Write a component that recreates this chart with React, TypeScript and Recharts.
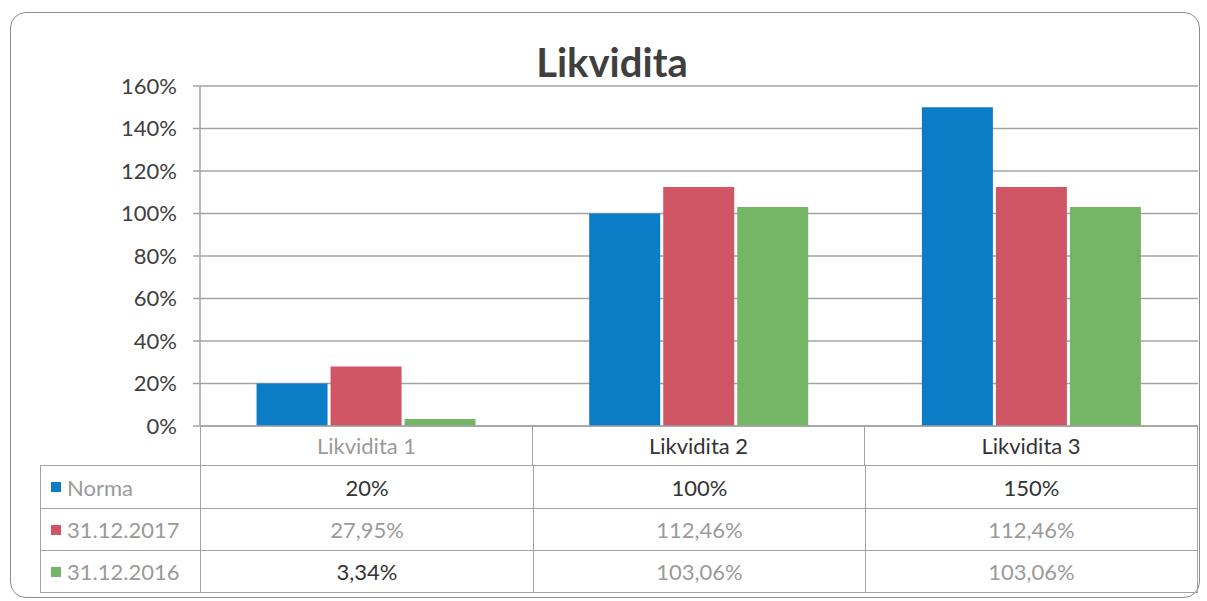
import React from 'react'
import { BarChart, Bar, XAxis, YAxis, CartesianGrid } from 'recharts'

const categories = ['Likvidita 1', 'Likvidita 2', 'Likvidita 3']
const norma = [20, 100, 150]
const rok2017 = [27.95, 112.46, 112.46]
const rok2016 = [3.34, 103.06, 103.06]
const yTicks = [0, 20, 40, 60, 80, 100, 120, 140, 160]

const series = [
  { key: 'norma', name: 'Norma', color: '#0b7dc6', values: norma, labels: ['20%', '100%', '150%'] },
  { key: 'r2017', name: '31.12.2017', color: '#d05565', values: rok2017, labels: ['27,95%', '112,46%', '112,46%'] },
  { key: 'r2016', name: '31.12.2016', color: '#74b566', values: rok2016, labels: ['3,34%', '103,06%', '103,06%'] },
]

// barvy textu v tabulce podle skenu
const headerColors = ['#9a9a9a', '#333', '#333']
const cellColors = [
  ['#333', '#333', '#333'],
  ['#9a9a9a', '#9a9a9a', '#9a9a9a'],
  ['#333', '#9a9a9a', '#9a9a9a'],
]

const data = categories.map((c, i) => ({
  name: c,
  norma: norma[i],
  r2017: rok2017[i],
  r2016: rok2016[i],
}))

const FONT = 'Lato, "Open Sans", sans-serif'
const GRID = '#a3a3a3'

const colLeft = [40, 200, 533, 865]
const colWidth = [160, 333, 332, 333]
const rowTop = [426, 465, 508, 550]
const rowHeight = [39, 43, 42, 43]

export default function App() {
  return (
    <div style={{ position: 'absolute', left: 0, top: 0, width: 1207, height: 601, background: '#fff', fontFamily: FONT }}>
      {/* rámeček grafu */}
      <div style={{
        position: 'absolute', left: 10, top: 12, width: 1190, height: 586,
        border: '1.5px solid #8d8d8d', borderRadius: 16, boxSizing: 'border-box',
      }} />
      <div style={{
        position: 'absolute', left: 0, top: 38, width: 1224, textAlign: 'center',
        fontSize: 40, fontWeight: 700, color: '#3f3f3f',
      }}>Likvidita</div>

      <div style={{ position: 'absolute', left: 0, top: 0 }}>
        <BarChart width={1207} height={601} data={data}
          margin={{ top: 86, right: 9, left: 0, bottom: 174 }}
          barCategoryGap="17%" barGap={3}>
          <CartesianGrid vertical={false} stroke={GRID} strokeWidth={1.5} />
          <XAxis dataKey="name" height={1} tick={false} tickLine={false}
            axisLine={{ stroke: GRID, strokeWidth: 1.5 }} />
          <YAxis width={200} domain={[0, 160]} ticks={yTicks} interval={0}
            tickFormatter={v => `${v}%`} tickSize={7} tickMargin={16}
            tickLine={{ stroke: GRID, strokeWidth: 1.5 }}
            axisLine={{ stroke: GRID, strokeWidth: 1.5 }}
            tick={{ fill: '#404040', fontSize: 22, fontFamily: FONT }} />
          {series.map(s => (
            <Bar key={s.key} dataKey={s.key} name={s.name} fill={s.color} isAnimationActive={false} />
          ))}
        </BarChart>
      </div>

      {/* datová tabulka */}
      {categories.map((c, i) => (
        <div key={c} style={{
          position: 'absolute', left: colLeft[i + 1], top: rowTop[0], width: colWidth[i + 1], height: rowHeight[0],
          borderRight: `1.5px solid ${GRID}`, borderLeft: i === 0 ? `1.5px solid ${GRID}` : 'none',
          boxSizing: 'border-box', display: 'flex', alignItems: 'center', justifyContent: 'center',
          fontSize: 22, color: headerColors[i],
        }}>{c}</div>
      ))}
      {series.map((s, r) => (
        <React.Fragment key={s.key}>
          <div style={{
            position: 'absolute', left: colLeft[0], top: rowTop[r + 1], width: colWidth[0], height: rowHeight[r + 1],
            borderLeft: `1.5px solid ${GRID}`, borderTop: `1.5px solid ${GRID}`,
            borderBottom: r === 2 ? `1.5px solid ${GRID}` : 'none',
            boxSizing: 'border-box', display: 'flex', alignItems: 'center', paddingLeft: 10,
            fontSize: 22, color: '#9a9a9a',
          }}>
            <span style={{ display: 'inline-block', width: 10, height: 10, background: s.color, marginRight: 6 }} />
            {s.name}
          </div>
          {s.labels.map((l, i) => (
            <div key={i} style={{
              position: 'absolute', left: colLeft[i + 1], top: rowTop[r + 1], width: colWidth[i + 1], height: rowHeight[r + 1],
              borderLeft: `1.5px solid ${GRID}`, borderTop: `1.5px solid ${GRID}`,
              borderRight: i === 2 ? `1.5px solid ${GRID}` : 'none',
              borderBottom: r === 2 ? `1.5px solid ${GRID}` : 'none',
              boxSizing: 'border-box', display: 'flex', alignItems: 'center', justifyContent: 'center',
              fontSize: 22, color: cellColors[r][i],
            }}>{l}</div>
          ))}
        </React.Fragment>
      ))}
    </div>
  )
}
